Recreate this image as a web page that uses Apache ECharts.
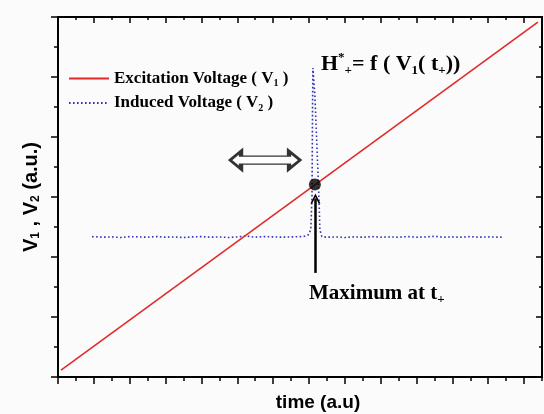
<!DOCTYPE html>
<html>
<head>
<meta charset="utf-8">
<script src="https://cdn.jsdelivr.net/npm/echarts@6/dist/echarts.min.js"></script>
<style>
  html, body { margin: 0; padding: 0; background: #fbfbfb; }
  #chart { width: 544px; height: 414px; }
</style>
</head>
<body>
<div id="chart"></div>
<script>
// tick positions (x in minor units, y in minor units)
const xMajorTicks = [0, 2, 4, 6, 8, 10, 12, 14, 16, 18, 20, 22, 24, 26];
const xMinorTicks = [1, 3, 5, 7, 9, 11, 13, 15, 17, 19, 21, 23, 25, 27];
const yMajorTicks = [0, 2, 4, 6, 8, 10, 12];
const yMinorTicks = [1, 3, 5, 7, 9, 11];

// excitation voltage V1 : straight ramp
const excitation = [[0.17, 0.23], [26.77, 11.83]];

// induced voltage V2 : flat with a sharp peak
const induced = [
  [1.9, 4.68], [2.5, 4.66], [3.0, 4.67], [3.5, 4.65], [4.0, 4.68], [4.5, 4.67],
  [5.0, 4.66], [5.5, 4.68], [6.0, 4.66], [6.5, 4.67], [7.0, 4.65], [7.5, 4.67],
  [8.0, 4.68], [8.5, 4.66], [9.0, 4.67], [9.5, 4.65], [10.0, 4.67], [10.5, 4.70],
  [11.0, 4.66], [11.5, 4.68], [12.0, 4.67], [12.5, 4.66], [13.0, 4.67], [13.5, 4.68],
  [13.75, 4.69], [13.95, 4.73], [14.1, 4.9], [14.17, 6.0], [14.2, 9.0], [14.22, 10.3],
  [14.33, 9.4], [14.45, 7.6], [14.56, 5.9], [14.61, 4.9], [14.72, 4.68],
  [15.0, 4.66], [15.5, 4.67], [16.0, 4.65], [16.5, 4.67], [17.0, 4.66], [17.5, 4.68],
  [18.0, 4.66], [18.5, 4.67], [19.0, 4.66], [19.5, 4.68], [20.0, 4.66], [20.5, 4.67],
  [21.0, 4.69], [21.5, 4.66], [22.0, 4.67], [22.5, 4.66], [23.0, 4.68], [23.5, 4.66],
  [24.0, 4.67], [24.76, 4.66]
];

// annotations
const peakPoint = [[14.33, 6.42]];
const arrowLine = [[14.36, 3.47], [14.36, 5.95]];
const doubleArrow = [[11.55, 7.23]];

let chartDom = document.getElementById("chart");
let myChart = echarts.init(chartDom);

const axisLine = { show: true, onZero: false, lineStyle: { color: "#000", width: 2 } };
const serifBold = { fontFamily: "Liberation Serif", fontWeight: "bold", color: "#000" };

function xAx(pos, ticks, len, inside, extra) {
  return Object.assign({
    type: "value", min: 0, max: 27, position: pos,
    axisLine: axisLine,
    axisTick: { show: true, customValues: ticks, length: len, inside: inside, lineStyle: { color: "#000", width: 1.5 } },
    axisLabel: { show: false },
    splitLine: { show: false }
  }, extra || {});
}
function yAx(pos, ticks, len, inside, extra) {
  return Object.assign({
    type: "value", min: 0, max: 12, position: pos,
    axisLine: axisLine,
    axisTick: { show: true, customValues: ticks, length: len, inside: inside, lineStyle: { color: "#000", width: 1.5 } },
    axisLabel: { show: false },
    splitLine: { show: false }
  }, extra || {});
}

let option = {
  backgroundColor: "#fbfbfb",
  animation: false,
  grid: { left: 58, right: 2, top: 17, bottom: 37, containLabel: false, outerBoundsMode: "none" },
  legend: {
    orient: "vertical",
    left: 68,
    top: 70,
    padding: 0,
    itemWidth: 40,
    itemHeight: 14,
    itemGap: 6,
    itemStyle: { opacity: 0 },
    data: ["Excitation Voltage (V1)", "Induced Voltage (V2)"],
    formatter: function (name) {
      return name === "Excitation Voltage (V1)"
        ? "{n|Excitation Voltage ( V}{s|1}{n| )}"
        : "{n|Induced Voltage ( V}{s|2}{n| )}";
    },
    textStyle: {
      rich: {
        n: Object.assign({ fontSize: 17, lineHeight: 20 }, serifBold),
        s: Object.assign({ fontSize: 10, lineHeight: 20, verticalAlign: "bottom", padding: [5, 0, 0, 0] }, serifBold)
      }
    }
  },
  xAxis: [
    xAx("bottom", xMajorTicks, 7, false, {
      name: "time (a.u)",
      nameLocation: "middle",
      nameGap: 16,
      nameTextStyle: { fontFamily: "Liberation Sans", fontWeight: "bold", fontSize: 19, color: "#000", padding: [0, 0, 0, 36] }
    }),
    xAx("bottom", xMinorTicks, 4, false),
    xAx("top", xMajorTicks, 6, true),
    xAx("top", xMinorTicks, 3, true)
  ],
  yAxis: [
    yAx("left", yMajorTicks, 7, false, {
      name: "{n|V}{s|1}{n| , V}{s|2}{n| (a.u.)}",
      nameLocation: "middle",
      nameGap: 16,
      nameTextStyle: {
        rich: {
          n: { fontFamily: "Liberation Sans", fontWeight: "bold", fontSize: 20, color: "#000", lineHeight: 22 },
          s: { fontFamily: "Liberation Sans", fontWeight: "bold", fontSize: 12, color: "#000", lineHeight: 22, verticalAlign: "bottom", padding: [7, 0, 0, 0] }
        }
      }
    }),
    yAx("left", yMinorTicks, 4, false),
    yAx("right", yMajorTicks, 6, true),
    yAx("right", yMinorTicks, 3, true)
  ],
  series: [
    {
      name: "Excitation Voltage (V1)",
      type: "line",
      symbol: "none",
      data: excitation,
      lineStyle: { color: "#e02a2a", width: 1.6 },
      itemStyle: { color: "#e02a2a" },
      z: 3
    },
    {
      name: "Induced Voltage (V2)",
      type: "line",
      symbol: "none",
      data: induced,
      lineStyle: { color: "#3535b0", width: 1.6, type: [1.6, 2.4] },
      itemStyle: { color: "#3535b0" },
      z: 2
    },
    {
      name: "peak",
      type: "scatter",
      data: peakPoint,
      symbolSize: 12,
      itemStyle: { color: "#000" },
      z: 5,
      markLine: {
        silent: true,
        symbol: ["none", "path://M0,10 L5,0 L10,10 L8.2,10 L5,3.6 L1.8,10 Z"],
        symbolSize: [10, 10],
        label: { show: false },
        lineStyle: { color: "#000", width: 2.5, type: "solid" },
        data: [[{ coord: arrowLine[0] }, { coord: arrowLine[1] }]]
      }
    },
    {
      name: "shift",
      type: "scatter",
      data: doubleArrow,
      symbol: "path://M0,9 L11,0 L11,5 L59,5 L59,0 L70,9 L59,18 L59,13 L11,13 L11,18 Z",
      symbolSize: [70, 18],
      symbolKeepAspect: false,
      itemStyle: { color: "#fff", borderColor: "#000", borderWidth: 2.2 },
      z: 4
    }
  ],
  graphic: [
    {
      type: "text",
      left: 321,
      top: 51,
      style: {
        text: "{b|H}{sup|*}{sub|+}{b|= f ( V}{sub|1}{b|( t}{sub|+}{b|))}",
        rich: {
          b: Object.assign({ fontSize: 22, lineHeight: 26 }, serifBold),
          sup: Object.assign({ fontSize: 13, lineHeight: 26, verticalAlign: "top", padding: [0, 0, 10, 0] }, serifBold),
          sub: Object.assign({ fontSize: 13, lineHeight: 26, verticalAlign: "bottom", padding: [6, 0, 0, 0] }, serifBold)
        }
      }
    },
    {
      type: "text",
      left: 309,
      top: 283,
      style: {
        text: "{b|Maximum at t}{sub|+}",
        rich: {
          b: Object.assign({ fontSize: 21, lineHeight: 26 }, serifBold),
          sub: Object.assign({ fontSize: 13, lineHeight: 26, verticalAlign: "bottom", padding: [7, 0, 0, 0] }, serifBold)
        }
      }
    }
  ]
};

option && myChart.setOption(option);
</script>
</body>
</html>
